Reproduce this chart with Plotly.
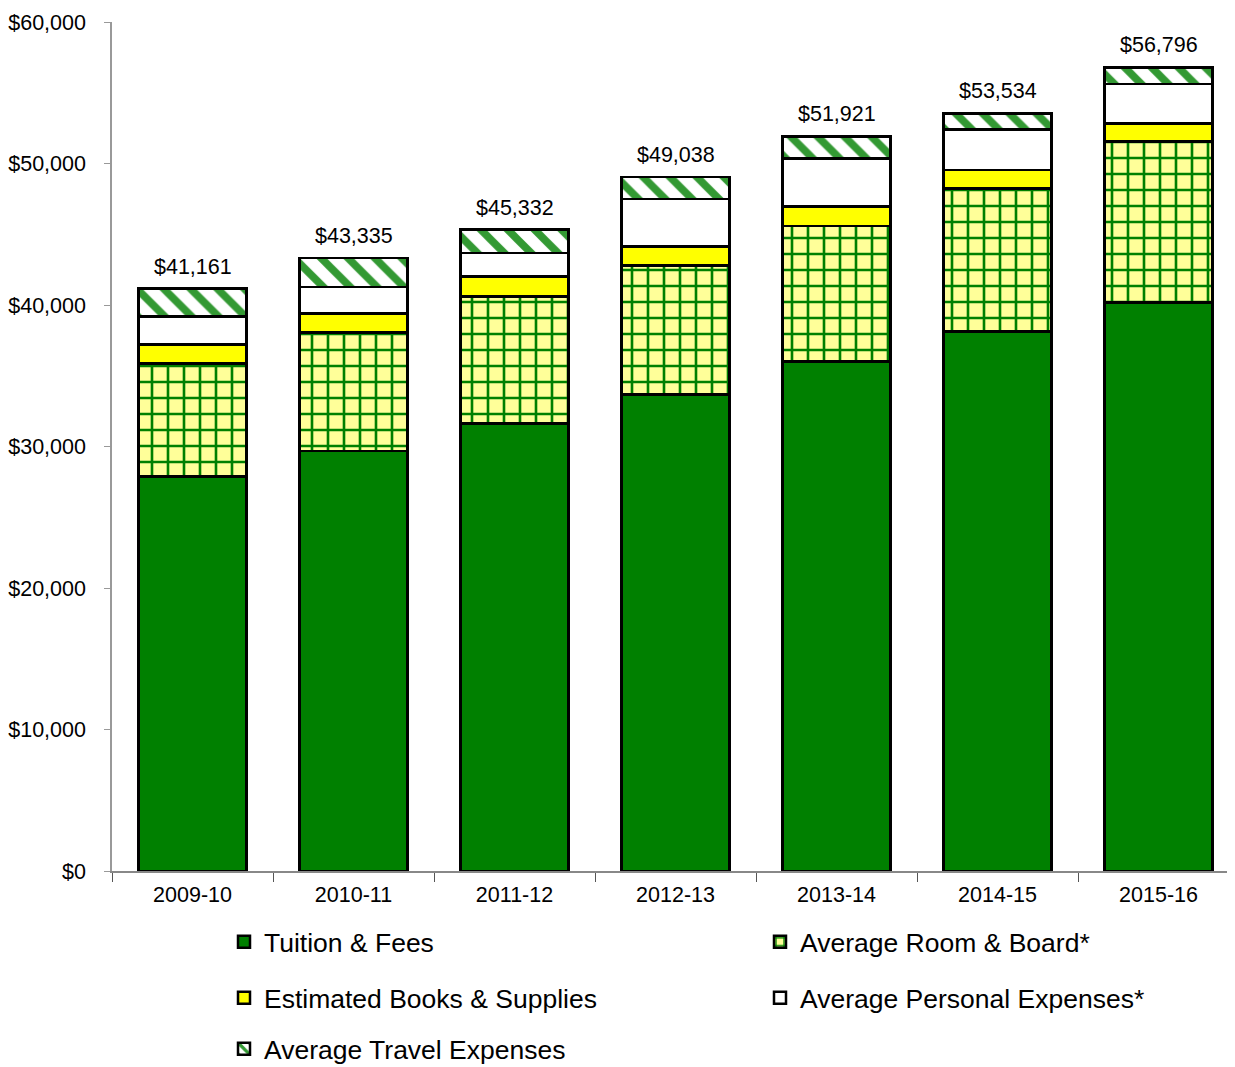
import plotly.graph_objects as go

years = ["2009-10", "2010-11", "2011-12", "2012-13", "2013-14", "2014-15", "2015-16"]
tuition = [27870, 29680, 31640, 33690, 35990, 38110, 40190]
room_board = [8010, 8390, 8950, 9090, 9610, 10140, 11350]
books = [1340, 1340, 1410, 1340, 1350, 1290, 1300]
personal = [1950, 1880, 1670, 3370, 3420, 2880, 2780]
travel = [1991, 2045, 1662, 1548, 1551, 1114, 1176]
totals = [41161, 43335, 45332, 49038, 51921, 53534, 56796]

FONT = "Arial, Liberation Sans, sans-serif"
LINE = dict(color="black", width=2.5)

fig = go.Figure()
fig.add_trace(go.Bar(x=years, y=tuition, name="Tuition & Fees", showlegend=True,
                     marker=dict(color="#008000", line=LINE), legend="legend"))
fig.add_trace(go.Bar(x=years, y=room_board, name="Average Room & Board*",
                     marker=dict(color="#FFFF99", line=LINE,
                                 pattern=dict(shape="+", fgcolor="#008000", bgcolor="#FFFF99",
                                              size=16, solidity=0.3, fillmode="replace")),
                     legend="legend2"))
fig.add_trace(go.Bar(x=years, y=books, name="Estimated Books & Supplies",
                     marker=dict(color="#FFFF00", line=LINE), legend="legend3"))
fig.add_trace(go.Bar(x=years, y=personal, name="Average Personal Expenses*",
                     marker=dict(color="white", line=LINE), legend="legend4"))
fig.add_trace(go.Bar(x=years, y=travel, name="Average Travel Expenses",
                     marker=dict(color="white", line=LINE,
                                 pattern=dict(shape="\\", fgcolor="#339933", bgcolor="white",
                                              size=19, solidity=0.4, fillmode="replace")),
                     legend="legend5"))

for yr, tot in zip(years, totals):
    fig.add_annotation(x=yr, y=tot, text=f"${tot:,}", showarrow=False,
                       yanchor="bottom", yshift=8, font=dict(size=21.5, color="black", family=FONT))

# page offset of 8px (browser body margin) is compensated in margins
PH = 849.0
def ly(py):
    return (871 - py) / PH
def lx(px):
    return (px - 112) / 1123.0

leg_common = dict(font=dict(size=26.5, color="black", family=FONT), bgcolor="rgba(0,0,0,0)",
                  xanchor="left", yanchor="middle", orientation="h", visible=True)
fig.update_layout(
    barmode="stack",
    bargap=0.33,
    showlegend=True,
    width=1227, height=1059,
    margin=dict(l=104, r=0, t=14, b=196, autoexpand=False),
    paper_bgcolor="white", plot_bgcolor="white",
    font=dict(family=FONT, color="black"),
    legend=dict(x=lx(224), y=ly(942), **leg_common),
    legend2=dict(x=lx(760), y=ly(942), **leg_common),
    legend3=dict(x=lx(224), y=ly(998), **leg_common),
    legend4=dict(x=lx(760), y=ly(998), **leg_common),
    legend5=dict(x=lx(224), y=ly(1049), **leg_common),
    xaxis=dict(type="category", range=[-0.5, 6.475], showline=True, linecolor="#888888", linewidth=1.5,
               ticks="outside", tickson="boundaries", ticklen=9, tickcolor="#555555", automargin=False,
               ticklabelstandoff=3,
               tickfont=dict(size=21.5, family=FONT, color="black"), showgrid=False),
    yaxis=dict(range=[0, 60000], dtick=10000, tickprefix="$", tickformat=",.0f", automargin=False,
               showline=True, linecolor="#999999", linewidth=1.5, ticks="outside", ticklen=6,
               tickcolor="#999999", ticklabelstandoff=14, showgrid=False, zeroline=False,
               tickfont=dict(size=21.5, family=FONT, color="black")),
)

fig.write_html("out.html")
